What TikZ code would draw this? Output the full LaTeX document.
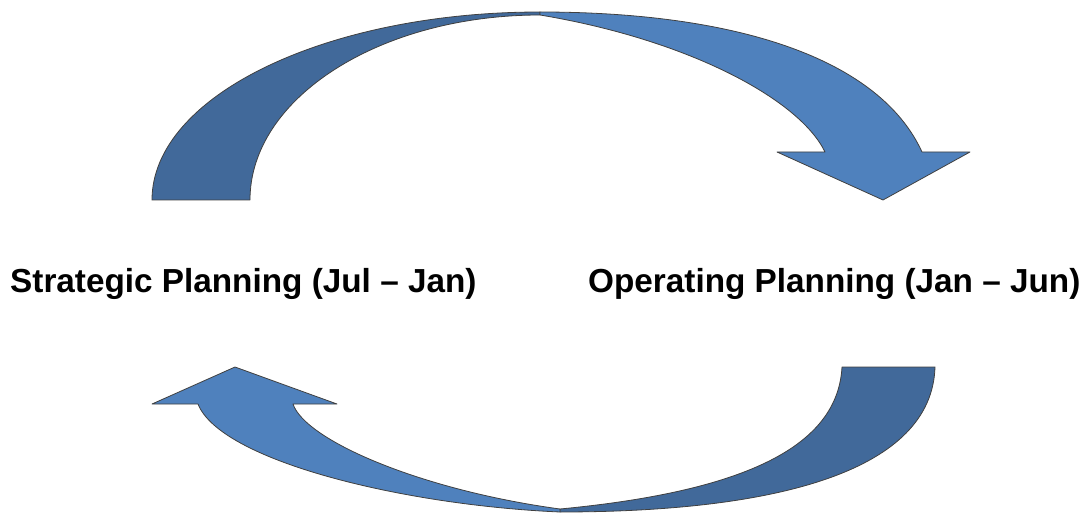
\documentclass[tikz,border=0pt]{standalone}
\usepackage{fontspec}
\setmainfont{Liberation Sans}
\definecolor{backblue}{HTML}{41699A}
\definecolor{frontblue}{HTML}{4F81BD}

\begin{document}
		\begin{tikzpicture}[
			x = 1pt, y = -1pt,
			back/.style = {fill = backblue, draw = black!75, line width = 0.8pt, line join = round},
			front/.style = {fill = frontblue, draw = black!75, line width = 0.8pt, line join = round},
			phase/.style = {anchor = base west, inner sep = 0pt, font = \fontsize{33.3}{40}\selectfont\bfseries}
			]

			\useasboundingbox (0,0) rectangle (1082,513);

			% upper arrow
			\draw[back] (152,200) .. controls (152,96) and (326,12) .. (540,12)
				-- (540,15) .. controls (380,15) and (250,98) .. (250,200) -- cycle;
			\draw[front] (540,12) .. controls (740,12) and (880,60) .. (922,152)
				-- (970,152) -- (883,200) -- (777,152) -- (825,152)
				.. controls (800,100) and (690,40) .. (540,15) -- cycle;

			% lower arrow
			\draw[back] (935,367) .. controls (932,470) and (780,512) .. (560,512)
				-- (560,509) .. controls (760,490) and (838,440) .. (842,367) -- cycle;
			\draw[front] (560,512) .. controls (400,505) and (220,460) .. (198,404)
				-- (152,404) -- (235,367) -- (337,404) -- (293,404)
				.. controls (305,440) and (420,490) .. (560,509) -- cycle;

			\node[phase] (strategic) at (10,292) {Strategic Planning (Jul -- Jan)};
			\node[phase] (operating) at (588,292) {Operating Planning (Jan -- Jun)};

		\end{tikzpicture}
\end{document}
